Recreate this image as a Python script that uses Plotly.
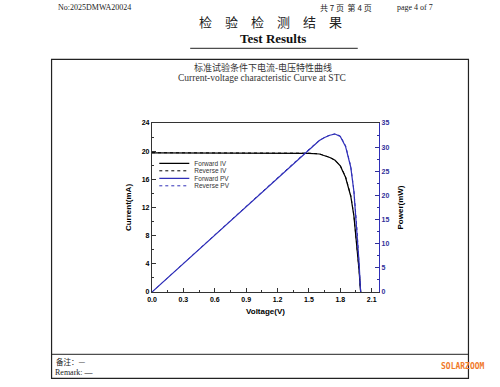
import plotly.graph_objects as go

# ---- data ----
voltage_fwd = [0.0, 0.1, 0.2, 0.3, 0.4, 0.5, 0.6, 0.7, 0.8, 0.9, 1.0, 1.1, 1.2, 1.3, 1.4, 1.5,
               1.6, 1.65, 1.7, 1.75, 1.8, 1.85, 1.9, 1.93, 1.96, 1.98, 1.99, 1.995]
current_fwd = [19.75, 19.75, 19.75, 19.75, 19.75, 19.75, 19.75, 19.75, 19.75, 19.75, 19.74, 19.74,
               19.73, 19.73, 19.72, 19.7, 19.6, 19.4, 19.1, 18.7, 17.9, 16.3, 13.6, 10.8, 6.5,
               3.0, 0.8, 0.0]
current_rev = [19.78, 19.78, 19.77, 19.77, 19.77, 19.77, 19.76, 19.76, 19.76, 19.76, 19.75, 19.75,
               19.74, 19.74, 19.73, 19.71, 19.62, 19.42, 19.12, 18.72, 17.95, 16.4, 13.7, 10.9, 6.6,
               3.1, 0.85, 0.0]
power_fwd = [0.0, 1.97, 3.95, 5.92, 7.9, 9.87, 11.85, 13.82, 15.8, 17.77, 19.74, 21.71,
             23.68, 25.65, 27.61, 29.55, 31.36, 32.01, 32.47, 32.72, 32.22, 30.16, 25.84, 20.84,
             12.74, 5.94, 1.59, 0.0]
power_rev = [0.0, 1.98, 3.95, 5.93, 7.91, 9.88, 11.86, 13.83, 15.81, 17.78, 19.75, 21.72,
             23.69, 25.66, 27.62, 29.57, 31.39, 32.04, 32.5, 32.76, 32.31, 30.34, 26.03, 21.04,
             12.94, 6.14, 1.69, 0.0]

x_ticks = [0.0, 0.3, 0.6, 0.9, 1.2, 1.5, 1.8, 2.1]
y_left_ticks = [0, 4, 8, 12, 16, 20, 24]
y_right_ticks = [0, 5, 10, 15, 20, 25, 30, 35]

BLUE = "#2f2fb8"
NAVY = "#30309a"

# plot area in pixels
W, H = 500, 387
L, R, T, B = 151.7, 379.3, 122.7, 291.7


def px(x):
    return (x - L) / (R - L)


def py(y):
    return (B - y) / (B - T)


fig = go.Figure()
fig.add_trace(go.Scatter(x=voltage_fwd, y=current_fwd, name="Forward IV", mode="lines",
                         legend="legend", line=dict(color="black", width=1.2)))
fig.add_trace(go.Scatter(x=voltage_fwd, y=current_rev, name="Reverse IV", mode="lines",
                         legend="legend2", line=dict(color="black", width=1.0, dash="dot")))
fig.add_trace(go.Scatter(x=voltage_fwd, y=power_fwd, name="Forward PV", mode="lines", yaxis="y2",
                         legend="legend3", line=dict(color=BLUE, width=1.2)))
fig.add_trace(go.Scatter(x=voltage_fwd, y=power_rev, name="Reverse PV", mode="lines", yaxis="y2",
                         legend="legend4", line=dict(color=BLUE, width=1.0, dash="dot")))

tick_font = dict(family="Liberation Sans", size=7, color="black", weight="bold")


def leg(ypix):
    return dict(x=px(154), y=py(ypix), xanchor="left", yanchor="middle",
                bgcolor="rgba(0,0,0,0)", borderwidth=0,
                font=dict(family="Liberation Sans", size=6.5, color="#333"),
                itemwidth=30)


fig.update_layout(
    width=W, height=H,
    margin=dict(l=L, r=W - R, t=T, b=H - B, pad=0),
    paper_bgcolor="white", plot_bgcolor="white",
    showlegend=True,
    legend=leg(163), legend2=leg(170.5), legend3=leg(178), legend4=leg(185.5),
    xaxis=dict(range=[0, 2.17], tickvals=x_ticks, ticktext=[f"{v:.1f}" for v in x_ticks],
               ticks="inside", ticklen=4, tickwidth=1, tickcolor="#333",
               minor=dict(ticks="inside", dtick=0.15, tick0=0, ticklen=2, tickcolor="#333"),
               showline=True, linecolor="#333", linewidth=1.2, mirror=True, showgrid=False,
               zeroline=False, tickfont=tick_font,
               title=dict(text="Voltage(V)", font=dict(family="Liberation Sans", size=8,
                                                        color="black", weight="bold"), standoff=6)),
    yaxis=dict(range=[0, 24], tickvals=y_left_ticks, ticks="inside", ticklen=4, tickcolor="#333",
               minor=dict(ticks="inside", dtick=2, ticklen=2, tickcolor="#333"),
               showline=True, linecolor="#333", linewidth=1.2, showgrid=False, zeroline=False,
               tickfont=tick_font,
               title=dict(text="Current(mA)", font=dict(family="Liberation Sans", size=8,
                                                         color="black", weight="bold"), standoff=8)),
    yaxis2=dict(range=[0, 35], tickvals=y_right_ticks, overlaying="y", side="right",
                ticks="inside", ticklen=4, tickcolor=NAVY,
                minor=dict(ticks="inside", dtick=2.5, ticklen=2, tickcolor=NAVY),
                showline=True, linecolor=BLUE, linewidth=1.4, showgrid=False, zeroline=False,
                tickfont=dict(family="Liberation Sans", size=7, color=NAVY, weight="bold"),
                title=dict(text="Power(mW)", font=dict(family="Liberation Sans", size=8,
                                                       color="black", weight="bold"), standoff=8)),
)

# ---- page / document elements ----
shapes = [
    dict(type="rect", x0=px(51), x1=px(469), y0=py(378), y1=py(59), xref="paper", yref="paper",
         line=dict(color="#222", width=1.2), layer="below"),
    dict(type="line", x0=px(51), x1=px(469), y0=py(354), y1=py(354), xref="paper", yref="paper",
         line=dict(color="#222", width=1)),
    dict(type="line", x0=px(190), x1=px(358), y0=py(48), y1=py(48), xref="paper", yref="paper",
         line=dict(color="#222", width=1)),
]
fig.update_layout(shapes=shapes)

serif = "Liberation Serif"
cjk = "Noto Sans CJK SC"


def note(x, y, text, size, family, anchor="left", color="#222", weight="normal"):
    fig.add_annotation(x=px(x), y=py(y), xref="paper", yref="paper", text=text, showarrow=False,
                       xanchor=anchor, yanchor="middle",
                       font=dict(family=family, size=size, color=color, weight=weight))


sp = "\u3000"
note(55, 7, "No:2025DMWA20024", 8, serif)
note(318, 7, "共 7 页  第 4 页", 8, cjk)
note(435, 7, "page 4 of 7", 8, serif, anchor="right")
note(271, 21, sp.join("检验检测结果"), 13, cjk, anchor="center")
note(273, 38, "Test Results", 13, serif, anchor="center", color="#111", weight="bold")
note(263, 67, "标准试验条件下电流-电压特性曲线", 9, cjk, anchor="center", color="#333")
note(262, 78, "Current-voltage characteristic Curve at STC", 9.5, serif, anchor="center",
     color="#333")
note(53, 361, "备注：—", 7.5, cjk)
note(52, 372, "Remark: —", 8, serif)
note(488, 366, "SOLARZOOM", 8, "DejaVu Sans Mono", anchor="right", color="#f07a2a",
     weight="bold")

fig.write_html("out.html", config={"displayModeBar": False},
               post_script="document.body.style.margin='0';")
